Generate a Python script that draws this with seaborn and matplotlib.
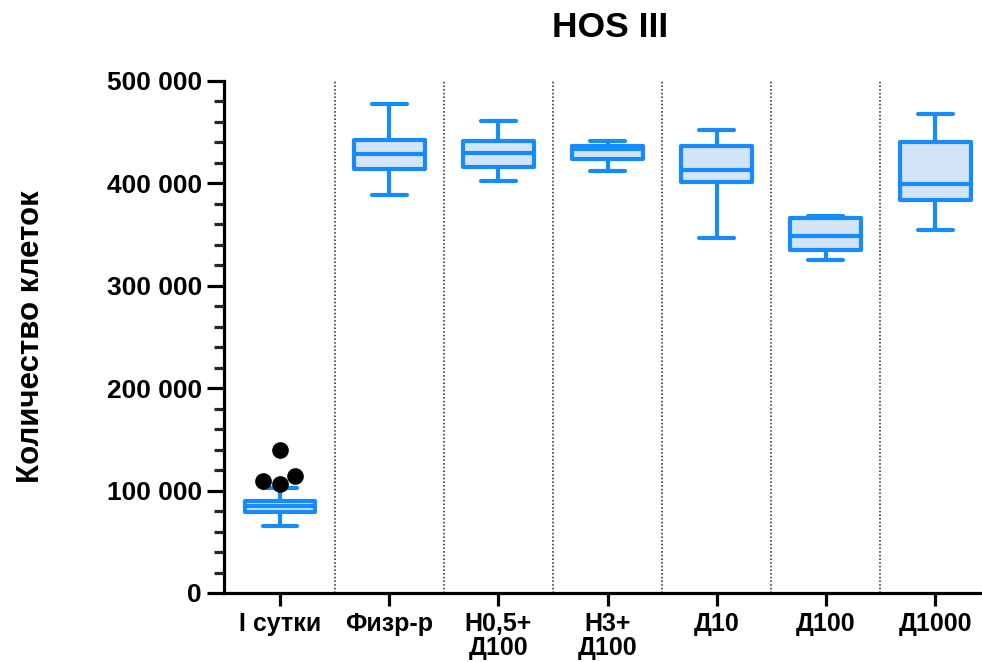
import numpy as np
import pandas as pd
import matplotlib
matplotlib.use("Agg")
import matplotlib.pyplot as plt
from matplotlib.ticker import MultipleLocator, FuncFormatter
import seaborn as sns

# Groups and their five-number summaries (cells per well)
groups = ["I сутки", "Физр-р", "Н0,5+\nД100", "Н3+\nД100", "Д10", "Д100", "Д1000"]
whisker_low = [65700, 388700, 402000, 411800, 346700, 324900, 354500]
quartile_1 = [78800, 414000, 415700, 423800, 401000, 335300, 384100]
median = [84500, 428700, 429700, 433900, 413400, 348300, 399400]
quartile_3 = [90200, 442000, 441700, 436800, 436800, 366200, 440800]
whisker_high = [102300, 477500, 461000, 441700, 452000, 367900, 467400]

# Outlying values of the first group
outlier_group = ["I сутки"] * 4
outlier_values = [139600, 114600, 109700, 106400]

rows = []
for i, g in enumerate(groups):
    for v in (whisker_low[i], quartile_1[i], median[i], quartile_3[i], whisker_high[i]):
        rows.append({"group": g, "cells": v})
df = pd.DataFrame(rows)

sns.set_style("ticks")
plt.rcParams["font.family"] = ["Liberation Sans", "DejaVu Sans"]
plt.rcParams["font.weight"] = "bold"
plt.rcParams["text.color"] = "black"
plt.rcParams["axes.labelcolor"] = "black"

edge = "#168BFF"
fill = "#D2E4F6"

fig = plt.figure(figsize=(9.82, 6.62), dpi=100)
ax = fig.add_axes([224 / 982, 69 / 662, 1 - 224 / 982, 512 / 662])

sns.boxplot(
    data=df, x="group", y="cells", order=groups, ax=ax,
    whis=(0, 100), showfliers=False, width=0.65, saturation=1,
    color=fill, linecolor=edge, linewidth=3,
    capwidths=0.32,
    boxprops={"joinstyle": "round", "zorder": 3},
    medianprops={"zorder": 4},
    whiskerprops={"solid_capstyle": "butt", "zorder": 2},
    capprops={"solid_capstyle": "round", "zorder": 2},
)

sns.swarmplot(
    x=outlier_group, y=outlier_values, order=groups, ax=ax,
    color="black", size=12, zorder=5,
)

# Dotted separators between groups
for i in range(len(groups) - 1):
    ax.axvline(i + 0.5, color="#222222", linestyle=(0, (1, 1.4)), linewidth=1.1, zorder=1)

ax.set_xlim(-0.513, 6.43)
ax.set_ylim(0, 500000)
ax.yaxis.set_major_locator(MultipleLocator(100000))
ax.yaxis.set_minor_locator(MultipleLocator(20000))
ax.yaxis.set_major_formatter(FuncFormatter(lambda v, p: f"{int(v):,}".replace(",", " ")))

for s in ("top", "right"):
    ax.spines[s].set_visible(False)
for s in ("left", "bottom"):
    ax.spines[s].set_linewidth(2.3)
    ax.spines[s].set_color("black")
    ax.spines[s].set_capstyle("projecting")

ax.tick_params(axis="y", which="major", length=12, width=2.3, pad=4, labelsize=19, colors="black")
ax.tick_params(axis="y", which="minor", length=7, width=2.3)
ax.tick_params(axis="x", which="major", length=9, width=2.3, pad=5, labelsize=18, colors="black")
for lab in ax.get_xticklabels() + ax.get_yticklabels():
    lab.set_fontweight("bold")
for lab in ax.get_xticklabels():
    lab.set_linespacing(1.0)

ax.set_xlabel("")
ax.set_ylabel("Количество клеток", fontsize=22.5, fontweight="bold", color="black")
ax.yaxis.set_label_coords(-0.235, 0.5)

fig.text(610 / 982, 1 - 37 / 662, "HOS III", ha="center", va="baseline",
         fontsize=25.5, fontweight="bold", color="black")

fig.savefig("out.png", dpi=100)
